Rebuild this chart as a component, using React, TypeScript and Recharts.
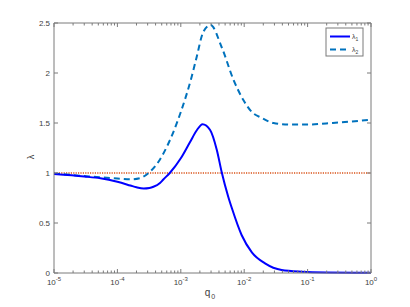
import { LineChart, Line, XAxis, YAxis } from "recharts";

// q0 sample points and eigenvalues
const Q1 = [
  1e-5, 3e-5, 5.4e-5, 1e-4, 1.6e-4, 2e-4, 2.6e-4, 3.2e-4, 3.7e-4, 4.7e-4,
  5.3e-4, 6.7e-4, 1e-3, 1.4e-3, 1.8e-3, 2.2e-3, 2.9e-3, 3.7e-3, 4.4e-3, 5.6e-3,
  6.4e-3, 9.1e-3, 1.32e-2, 2.13e-2, 3.9e-2, 8.1e-2, 0.2, 1,
];
const LAMBDA1 = [
  0.99, 0.965, 0.947, 0.912, 0.875, 0.857, 0.845, 0.85, 0.862, 0.9, 0.935,
  1.0, 1.147, 1.31, 1.43, 1.487, 1.43, 1.23, 1.013, 0.763, 0.647, 0.38, 0.207,
  0.097, 0.03, 0.013, 0.006, 0.003,
];

const Q2 = [
  1e-5, 3e-5, 1e-4, 1.6e-4, 2.3e-4, 3.1e-4, 4.2e-4, 6e-4, 1e-3, 1.48e-3,
  1.78e-3, 2.26e-3, 2.95e-3, 4.4e-3, 6.8e-3, 9.7e-3, 1.32e-2, 1.9e-2, 2.9e-2,
  5.3e-2, 0.1, 0.25, 1,
];
const LAMBDA2 = [
  0.995, 0.97, 0.945, 0.937, 0.95, 1.0, 1.09, 1.26, 1.61, 1.96, 2.16, 2.41,
  2.48, 2.26, 1.93, 1.73, 1.61, 1.55, 1.5, 1.485, 1.485, 1.5, 1.533,
];

const QREF = [1e-5, 1];
const REF = [1, 1];

const X_MAJOR = [1e-5, 1e-4, 1e-3, 1e-2, 1e-1, 1];
const X_MINOR_MULT = [2, 3, 4, 5, 6, 7, 8, 9];
const Y_TICKS = [0, 0.5, 1, 1.5, 2, 2.5];

const xTicks = [
  ...X_MAJOR,
  ...X_MAJOR.slice(0, -1).flatMap((d) => X_MINOR_MULT.map((m) => m * d)),
];

const line1 = Q1.map((q, i) => ({ q, v: LAMBDA1[i] }));
const line2 = Q2.map((q, i) => ({ q, v: LAMBDA2[i] }));
const refLine = QREF.map((q, i) => ({ q, v: REF[i] }));

const AXIS = "#7a7a7a";
const TEXT = "#404040";
const FONT = "'Liberation Sans', Arial, sans-serif";

const isMajor = (v: number) => {
  const l = Math.log10(v);
  return Math.abs(l - Math.round(l)) < 1e-6;
};

const BottomTick = (props: any) => {
  const { x, y, payload } = props;
  const major = isMajor(payload.value);
  const exp = Math.round(Math.log10(payload.value));
  return (
    <g>
      <line x1={x} y1={y} x2={x} y2={y - (major ? 4 : 2.5)} stroke={AXIS} />
      {major && (
        <text x={x} y={y + 12} textAnchor="middle" fontSize={8} fill={TEXT} fontFamily={FONT}>
          10
          <tspan dy={-4} fontSize={6}>
            {exp}
          </tspan>
        </text>
      )}
    </g>
  );
};

const TopTick = (props: any) => {
  const { x, y, payload } = props;
  const major = isMajor(payload.value);
  return <line x1={x} y1={y} x2={x} y2={y + (major ? 4 : 2.5)} stroke={AXIS} />;
};

const LeftTick = (props: any) => {
  const { x, y, payload } = props;
  return (
    <g>
      <line x1={x} y1={y} x2={x + 4} y2={y} stroke={AXIS} />
      <text x={x - 4} y={y + 3} textAnchor="end" fontSize={8} fill={TEXT} fontFamily={FONT}>
        {payload.value}
      </text>
    </g>
  );
};

const RightTick = (props: any) => {
  const { x, y } = props;
  return <line x1={x} y1={y} x2={x - 4} y2={y} stroke={AXIS} />;
};

export default function App() {
  return (
    <div style={{ position: "absolute", left: 0, top: 0, width: 410, height: 307, background: "#fff" }}>
      <LineChart width={410} height={307} margin={{ top: 22, right: 38, bottom: 0, left: 0 }}>
        <XAxis
          dataKey="q"
          type="number"
          scale="log"
          domain={[1e-5, 1]}
          allowDataOverflow
          ticks={xTicks}
          interval={0}
          height={34}
          tickSize={0}
          tickMargin={0}
          tickLine={false}
          stroke={AXIS}
          tick={BottomTick}
        />
        <XAxis
          xAxisId="top"
          orientation="top"
          dataKey="q"
          type="number"
          scale="log"
          domain={[1e-5, 1]}
          allowDataOverflow
          ticks={xTicks}
          interval={0}
          height={1}
          tickSize={0}
          tickMargin={0}
          tickLine={false}
          stroke={AXIS}
          tick={TopTick}
        />
        <YAxis
          type="number"
          domain={[0, 2.5]}
          ticks={Y_TICKS}
          interval={0}
          width={54}
          tickSize={0}
          tickMargin={0}
          tickLine={false}
          stroke={AXIS}
          tick={LeftTick}
        />
        <YAxis
          yAxisId="right"
          orientation="right"
          type="number"
          domain={[0, 2.5]}
          ticks={Y_TICKS}
          interval={0}
          width={1}
          tickSize={0}
          tickMargin={0}
          tickLine={false}
          stroke={AXIS}
          tick={RightTick}
        />
        <Line
          data={refLine}
          xAxisId="top"
          yAxisId="right"
          dataKey="v"
          type="linear"
          stroke="#d95319"
          strokeWidth={1.5}
          strokeDasharray="1.2 1.2"
          dot={false}
          isAnimationActive={false}
        />
        <Line
          data={line2}
          dataKey="v"
          type="monotone"
          stroke="#0072bd"
          strokeWidth={2}
          strokeDasharray="6 4"
          dot={false}
          isAnimationActive={false}
        />
        <Line
          data={line1}
          dataKey="v"
          type="monotone"
          stroke="#0000ff"
          strokeWidth={2}
          dot={false}
          isAnimationActive={false}
        />
      </LineChart>
      <svg
        width={410}
        height={307}
        style={{ position: "absolute", left: 0, top: 0, pointerEvents: "none" }}
      >
        <text
          x={34}
          y={157}
          transform="rotate(-90 34 157)"
          textAnchor="middle"
          fontSize={9}
          fill={TEXT}
          fontFamily={FONT}
        >
          λ
        </text>
        <text x={210} y={296} textAnchor="middle" fontSize={10} fill={TEXT} fontFamily={FONT}>
          q
          <tspan dx={1} dy={3} fontSize={7}>
            0
          </tspan>
        </text>
        <rect x={326} y={28} width={37} height={28} fill="#fff" stroke={AXIS} strokeWidth={1} />
        <line x1={330} y1={36.5} x2={350} y2={36.5} stroke="#0000ff" strokeWidth={2} />
        <line x1={330} y1={49.5} x2={350} y2={49.5} stroke="#0072bd" strokeWidth={2} strokeDasharray="6 4" />
        <text x={352} y={39} fontSize={7} fill={TEXT} fontFamily={FONT}>
          λ
          <tspan dy={2} fontSize={5}>
            1
          </tspan>
        </text>
        <text x={352} y={52} fontSize={7} fill={TEXT} fontFamily={FONT}>
          λ
          <tspan dy={2} fontSize={5}>
            2
          </tspan>
        </text>
      </svg>
    </div>
  );
}
